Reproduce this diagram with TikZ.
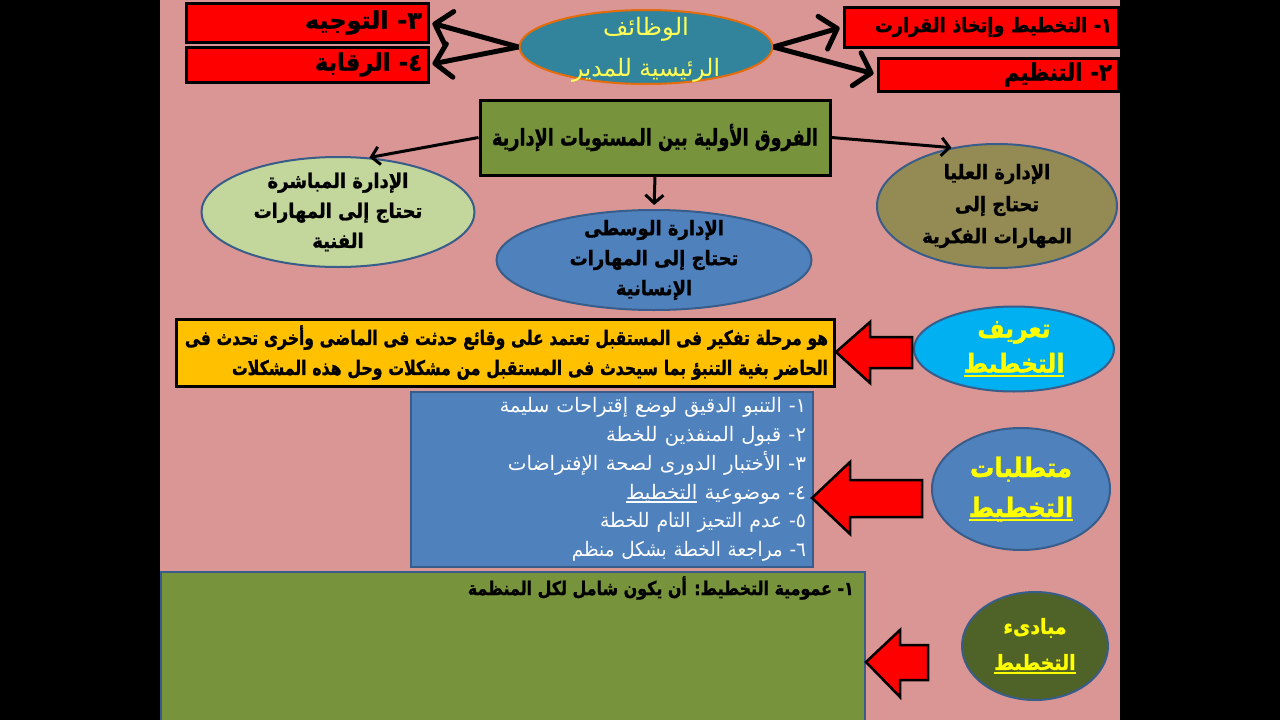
\documentclass[tikz,border=0pt]{standalone}
\usepackage{fontspec}
\usepackage{graphicx}
\usetikzlibrary{shapes.geometric,arrows.meta}
\TeXXeTstate=1
\newfontfamily\arabicfont[Script=Arabic,FakeStretch=0.9,BoldFeatures={FakeBold=1.2}]{DejaVu Sans}
\newcommand{\fit}[2]{\resizebox{#1}{\height}{#2}}
\newcommand{\ulx}[1]{\hbox{\setbox0=\hbox{#1}\rlap{\rule[-4pt]{\wd0}{1.6pt}}\box0}}
\definecolor{pinkbg}{HTML}{D99694}
\definecolor{tealc}{HTML}{31849B}
\definecolor{orangec}{HTML}{E46C0A}
\definecolor{redc}{HTML}{FF0000}
\definecolor{olivec}{HTML}{77933C}
\definecolor{lgreen}{HTML}{C3D69B}
\definecolor{bluec}{HTML}{4F81BD}
\definecolor{blueline}{HTML}{385D8A}
\definecolor{khaki}{HTML}{948A54}
\definecolor{amber}{HTML}{FFC000}
\definecolor{cyanc}{HTML}{00B0F0}
\definecolor{darkolive}{HTML}{4F6228}
\definecolor{yel}{HTML}{FFFF00}
\definecolor{paleyel}{HTML}{FFFF55}
\begin{document}
\begin{tikzpicture}[x=1pt,y=-1pt,
  redbox/.style={draw=black,line width=3pt,fill=redc,inner xsep=6pt,inner ysep=0pt,align=right,
    font=\arabicfont\bfseries\fontsize{24}{26}\selectfont},
  ell/.style={ellipse,draw=blueline,line width=2pt,inner sep=0pt},
  etxt/.style={align=center,inner sep=0pt,font=\arabicfont\bfseries\fontsize{20}{30}\selectfont},
  ytxt/.style={align=center,inner sep=0pt,text=yel},
  fat/.style={line width=5pt,-{Straight Barb[length=15pt,width=34pt,round]},shorten >=3pt},
  mid arrow/.style={line width=3pt,-{Straight Barb[length=8pt,width=18pt]}},
  blockarrow/.style={fill=redc,draw=black,line width=2.5pt,line join=miter}
]
\useasboundingbox (0,0) rectangle (1280,720);
\fill[black] (0,0) rectangle (1280,720);
\fill[pinkbg] (160,0) rectangle (1120,720);

% top: main functions
\node[ell,draw=orangec,fill=tealc,minimum width=253pt,minimum height=74pt,
  label={[ytxt,text=paleyel,yshift=-3pt,font=\arabicfont\fontsize{24}{41}\selectfont]center:{\fit{86pt}{\beginR الوظائف\endR}\\\fit{148pt}{\beginR الرئيسية للمدير\endR}}}] (funcs) at (646,47) {};
\node[redbox,text width=230pt,minimum height=39pt] (dir) at (307,22.5) {\fit{117pt}{\beginR ٣- التوجيه\endR}};
\node[redbox,text width=230pt,minimum height=35pt] (ctrl) at (307,64.5) {\fit{107pt}{\beginR ٤- الرقابة\endR}};
\node[redbox,text width=262pt,minimum height=40pt,font=\arabicfont\bfseries\fontsize{20}{24}\selectfont] (plan) at (981,27) {\fit{237pt}{\beginR ١- التخطيط وإتخاذ القرارت\endR}};
\node[redbox,text width=228pt,minimum height=33pt] (org) at (998,74.5) {\fit{108pt}{\beginR ٢- التنظيم\endR}};
\draw[fat] (funcs.west) -- (dir.east);
\draw[fat] (funcs.west) -- (ctrl.east);
\draw[fat] (funcs.east) -- (plan.west);
\draw[fat] (funcs.east) -- (org.west);

% management levels
\node[draw=black,line width=3pt,fill=olivec,minimum width=350pt,minimum height=75pt,
  font=\arabicfont\bfseries\fontsize{23}{26}\selectfont] (diff) at (655,137.5) {\fit{326pt}{\beginR الفروق الأولية بين المستويات الإدارية\endR}};
\node[ell,fill=lgreen,minimum width=273pt,minimum height=110pt,
  label={[etxt]center:{\beginR الإدارة المباشرة\endR\\\beginR تحتاج إلى المهارات\endR\\\beginR الفنية\endR}}] (direct) at (338,212) {};
\node[ell,fill=bluec,minimum width=315pt,minimum height=100pt,
  label={[etxt]center:{\beginR الإدارة الوسطى\endR\\\beginR تحتاج إلى المهارات\endR\\\beginR الإنسانية\endR}}] (midm) at (654,260) {};
\node[ell,fill=khaki,minimum width=240pt,minimum height=124pt,
  label={[etxt,font=\arabicfont\bfseries\fontsize{20}{32}\selectfont]center:{\beginR الإدارة العليا\endR\\\beginR تحتاج إلى\endR\\\beginR المهارات الفكرية\endR}}] (topm) at (997,206) {};
\draw[mid arrow] (diff.west) -- (direct.60);
\draw[mid arrow] (diff.east) -- (topm.128);
\draw[mid arrow,shorten >=4pt] (diff.south) -- (midm.north);

% definition of planning
\node[ell,fill=cyanc,minimum width=200pt,minimum height=85pt,
  label={[ytxt,font=\arabicfont\bfseries\fontsize{26}{35}\selectfont]center:{\beginR تعريف\endR\\\beginR\ulx{التخطيط}\endR}}] (defn) at (1014,349) {};
\node[draw=black,line width=3pt,fill=amber,minimum width=658pt,minimum height=67pt,text width=646pt,
  inner xsep=6pt,align=right,font=\arabicfont\bfseries\fontsize{20}{30}\selectfont] (defbox) at (505,352.5)
  {\fit{643pt}{\beginR هو مرحلة تفكير فى المستقبل تعتمد على وقائع حدثت فى الماضى وأخرى تحدث فى\endR}\\\fit{596pt}{\beginR الحاضر بغية التنبؤ بما سيحدث فى المستقبل من مشكلات وحل هذه المشكلات\endR}};
\filldraw[blockarrow] (836,352) -- (870,322) -- (870,337) -- (912,337) -- (912,368) -- (870,368) -- (870,383) -- cycle;

% requirements of planning
\node[ell,fill=bluec,minimum width=178pt,minimum height=122pt,
  label={[ytxt,font=\arabicfont\bfseries\fontsize{27}{40}\selectfont]center:{\beginR متطلبات\endR\\\beginR\ulx{التخطيط}\endR}}] (req) at (1021,489) {};
\node[draw=blueline,line width=2pt,fill=bluec,minimum width=402pt,minimum height=175pt,text width=388pt,
  inner xsep=7pt,align=right,text=white,font=\arabicfont\fontsize{20}{28.7}\selectfont] (reqbox) at (612,479.5)
  {\fit{306pt}{\beginR ١- التنبو الدقيق لوضع إقتراحات سليمة\endR}\\
   \fit{200pt}{\beginR ٢- قبول المنفذين للخطة\endR}\\
   \fit{298pt}{\beginR ٣- الأختبار الدورى لصحة الإفتراضات\endR}\\
   \fit{180pt}{\beginR ٤- موضوعية \ulx{التخطيط}\endR}\\
   \fit{206pt}{\beginR ٥- عدم التحيز التام للخطة\endR}\\
   \fit{234pt}{\beginR ٦- مراجعة الخطة بشكل منظم\endR}};
\filldraw[blockarrow] (812,498) -- (850,462) -- (850,480) -- (922,480) -- (922,517) -- (850,517) -- (850,534) -- cycle;

% principles of planning
\node[ell,fill=darkolive,minimum width=146pt,minimum height=108pt,
  label={[ytxt,font=\arabicfont\bfseries\fontsize{21}{36}\selectfont]center:{\beginR مبادىء\endR\\\beginR\ulx{التخطيط}\endR}}] (princ) at (1035,646) {};
\node[draw=blueline,line width=2pt,fill=olivec,minimum width=704pt,minimum height=152pt] (prbox) at (513,648) {};
\node[anchor=north east,inner sep=0pt,font=\arabicfont\bfseries\fontsize{19}{22}\selectfont] (pr1)
  at ([xshift=-12pt,yshift=-5pt]prbox.north east) {\fit{386pt}{\beginR ١- عمومية التخطيط: أن يكون شامل لكل المنظمة\endR}};
\filldraw[blockarrow] (866,662) -- (900,630) -- (900,645) -- (928,645) -- (928,680) -- (900,680) -- (900,697) -- cycle;
\end{tikzpicture}
\end{document}
